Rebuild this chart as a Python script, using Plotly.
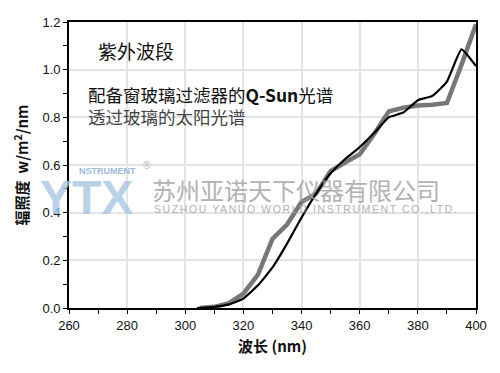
import plotly.graph_objects as go

# Data
wl_sun = [305, 310, 315, 320, 325, 330, 335, 340, 345, 350, 355, 360, 365, 370, 375, 380, 385, 390, 395, 400]
irr_sun = [0.0, 0.005, 0.02, 0.06, 0.14, 0.29, 0.35, 0.445, 0.48, 0.575, 0.61, 0.645, 0.73, 0.825, 0.84, 0.85, 0.853, 0.86, 1.02, 1.19]

wl_qsun = [304, 310, 315, 320, 325, 330, 335, 340, 345, 350, 355, 360, 365, 370, 375, 380, 385, 390, 395, 400]
irr_qsun = [0.0, 0.005, 0.015, 0.04, 0.095, 0.17, 0.27, 0.38, 0.48, 0.565, 0.625, 0.675, 0.735, 0.80, 0.82, 0.872, 0.89, 0.95, 1.085, 1.015]

x_ticks = [260, 280, 300, 320, 340, 360, 380, 400]
y_ticks = [0.0, 0.2, 0.4, 0.6, 0.8, 1.0, 1.2]
y_tick_text = ["0.0", "0.2", "0.4", "0.6", "0.8", "1.0", "1.2"]

# The page body adds an 8px margin; the figure is sized to fit the window.
OFF = 8
W, H = 500 - OFF, 373 - OFF
L, R, T, B = 69 - OFF, 24, 15 - OFF, 65
pw, ph = W - L - R, H - T - B

fig = go.Figure()
fig.add_trace(go.Scatter(x=wl_sun, y=irr_sun, mode="lines",
                         line=dict(color="#777777", width=4.5), name="透过玻璃的太阳光谱"))
fig.add_trace(go.Scatter(x=wl_qsun, y=irr_qsun, mode="lines",
                         line=dict(color="#000000", width=2.2, shape="spline", smoothing=0.4),
                         name="配备窗玻璃过滤器的Q-Sun光谱"))

tickfont = dict(family="Liberation Sans, Arial", size=13, color="#111")
fig.update_xaxes(range=[260, 400], tickvals=x_ticks, ticktext=[str(v) for v in x_ticks],
                 showgrid=True, gridcolor="#e4e4e4", gridwidth=1.6,
                 showline=True, linecolor="black", linewidth=1.8, mirror=True,
                 ticks="outside", ticklen=4, tickcolor="black", tickwidth=1,
                 minor=dict(dtick=10, ticks="outside", ticklen=4, tickcolor="black", showgrid=False),
                 tickfont=tickfont, zeroline=False,
                 title=dict(text="<b>波长 (nm)</b>", font=dict(family="Noto Sans CJK SC", size=15, color="#111"), standoff=10))
fig.update_yaxes(range=[0, 1.2], tickvals=y_ticks, ticktext=y_tick_text,
                 showgrid=True, gridcolor="#e4e4e4", gridwidth=1.6,
                 showline=True, linecolor="black", linewidth=1.8, mirror=True,
                 ticks="outside", ticklen=4, tickcolor="black", tickwidth=1,
                 minor=dict(dtick=0.1, ticks="outside", ticklen=4, tickcolor="black", showgrid=False),
                 tickfont=tickfont, zeroline=False,
                 title=dict(text="<b>辐照度  w/m<sup>2</sup>/nm</b>", font=dict(family="Noto Sans CJK SC", size=15, color="#111"), standoff=10))


def px(x, y, text, size, color, xanchor="left", family="Noto Sans CJK SC", opacity=1.0):
    x -= OFF
    y -= OFF
    return dict(x=(x - L) / pw, y=(H - B - y) / ph, xref="paper", yref="paper",
                text=text, showarrow=False, xanchor=xanchor, yanchor="middle",
                font=dict(family=family, size=size, color=color), opacity=opacity)

ann = [
    px(96, 44, "紫外波段", 19, "#111"),
    px(86, 89, "配备窗玻璃过滤器的<b>Q-Sun</b>光谱", 17.5, "#111"),
    px(86, 112, "透过玻璃的太阳光谱", 17.5, "#444"),
    px(38, 195, "<b>YTX</b>", 48, "#a9c6e2", family="Liberation Sans, Arial", opacity=0.8),
    px(77, 168, "<b>NSTRUMENT</b>", 9, "#8fb4d9", family="Liberation Sans, Arial", opacity=0.9),
    px(141, 162, "®", 10, "#aaaaaa", family="Liberation Sans, Arial", opacity=0.8),
    px(150, 187, "苏州亚诺天下仪器有限公司", 24, "#a0a0a0", opacity=0.8),
    px(152, 207, '<span style="letter-spacing:1.6px">SUZHOU YANUO WORLD INSTRUMENT CO.,LTD.</span>', 10.5,
       "#a0a0a0", family="Liberation Sans, Arial", opacity=0.8),
]

fig.update_layout(width=W, height=H, margin=dict(l=L, r=R, t=T, b=B),
                  plot_bgcolor="white", paper_bgcolor="white", showlegend=False,
                  annotations=ann)

fig.write_html("out.html")
